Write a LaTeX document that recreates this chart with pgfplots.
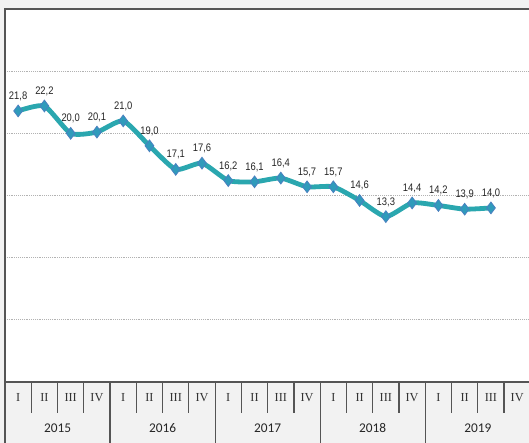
\documentclass[border=0pt]{standalone}
\usepackage{pgfplots}
\pgfplotsset{compat=1.18}
\usepackage{fontspec}
\setmainfont{Liberation Sans}
\newfontfamily\lblfont{Liberation Sans}[FakeStretch=0.86]
\newfontfamily\qfont{Liberation Serif}
\newfontfamily\yfont{Carlito}
\definecolor{bg}{HTML}{F2F2F2}
\definecolor{teal}{HTML}{2AA7AF}
\definecolor{mfill}{HTML}{2F9BBB}
\definecolor{mdraw}{HTML}{4A80C0}
\definecolor{frame}{HTML}{555555}
\begin{document}
\begin{tikzpicture}
\fill[bg] (-3.75pt,-45.75pt) rectangle (393pt,286.5pt);
\useasboundingbox (-3.75pt,-45.75pt) rectangle (393pt,286.5pt);
\begin{axis}[
  at={(0pt,0pt)}, anchor=south west,
  scale only axis, width=394pt, height=279.75pt,
  xmin=-0.5, xmax=19.5, ymin=0, ymax=30,
  clip=false,
  axis background/.style={fill=white},
  axis line style={draw=none},
  ytick={5,10,15,20,25}, yticklabels={},
  ymajorgrids, grid style={densely dotted, gray!60, line width=0.5pt},
  major tick length=0pt,
  xtick={0,...,19},
  xticklabels={I,II,III,IV,I,II,III,IV,I,II,III,IV,I,II,III,IV,I,II,III,IV},
  xticklabel style={anchor=center, yshift=-11.5pt, font=\qfont\fontsize{9.2}{10}\selectfont, text=black!80},
  /pgf/number format/assume math mode=true,
  every node near coord/.append style={font=\lblfont\fontsize{8.2}{9}\selectfont, anchor=south, yshift=4pt, text=black!85},
]
\addplot[teal, line width=3.6pt, smooth, tension=0.35,
  mark=diamond*, mark size=4.4pt,
  mark options={fill=mfill, draw=mdraw, line width=0.6pt},
  nodes near coords={\pgfmathprintnumber[fixed, fixed zerofill, precision=1, use comma]{\pgfplotspointmeta}},
  point meta=explicit]
coordinates {
(0,21.8)[21.8] (1,22.2)[22.2] (2,20.0)[20.0] (3,20.1)[20.1]
(4,21.0)[21.0] (5,19.0)[19.0] (6,17.1)[17.1] (7,17.6)[17.6]
(8,16.2)[16.2] (9,16.1)[16.1] (10,16.4)[16.4] (11,15.7)[15.7]
(12,15.7)[15.7] (13,14.6)[14.6] (14,13.3)[13.3] (15,14.4)[14.4]
(16,14.2)[14.2] (17,13.9)[13.9] (18,14.0)[14.0]
};
\draw[frame, line width=1.3pt] (axis cs:-0.5,0) -- (axis cs:-0.5,30) -- (axis cs:19.5,30);
\draw[frame, line width=1.3pt] (axis cs:-0.5,0) -- (axis cs:19.5,0);
\pgfplotsinvokeforeach{0.5,1.5,...,18.5}{
  \draw[frame, line width=0.9pt] (axis cs:#1,0) -- ++(0pt,-23.5pt);
}
\pgfplotsinvokeforeach{-0.5,3.5,7.5,11.5,15.5}{
  \draw[frame, line width=0.9pt] (axis cs:#1,0) -- ++(0pt,-46pt);
}
\node[font=\yfont\fontsize{10}{11}\selectfont, text=black!85] at (axis cs:1.5,0) [yshift=-34.5pt] {2015};
\node[font=\yfont\fontsize{10}{11}\selectfont, text=black!85] at (axis cs:5.5,0) [yshift=-34.5pt] {2016};
\node[font=\yfont\fontsize{10}{11}\selectfont, text=black!85] at (axis cs:9.5,0) [yshift=-34.5pt] {2017};
\node[font=\yfont\fontsize{10}{11}\selectfont, text=black!85] at (axis cs:13.5,0) [yshift=-34.5pt] {2018};
\node[font=\yfont\fontsize{10}{11}\selectfont, text=black!85] at (axis cs:17.5,0) [yshift=-34.5pt] {2019};
\end{axis}
\end{tikzpicture}
\end{document}
